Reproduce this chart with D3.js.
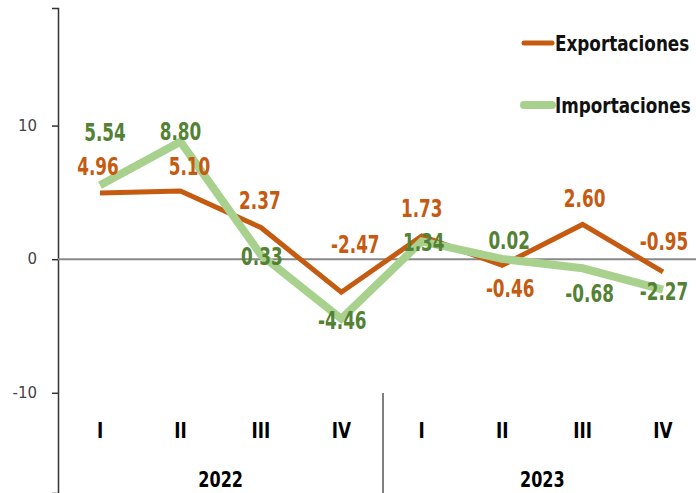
<!DOCTYPE html>
<html lang="es">
<head>
<meta charset="UTF-8">
<title>Exportaciones e Importaciones</title>
<script src="https://d3js.org/d3.v7.min.js"></script>
<style>
  body { margin: 0; background: #fff; }
  svg { display: block; }
</style>
</head>
<body>
<div id="chart"></div>
<script>
// quarters and years
const quarters = ["I", "II", "III", "IV", "I", "II", "III", "IV"];
const years = ["2022", "2023"];
const exportaciones = [4.96, 5.10, 2.37, -2.47, 1.73, -0.46, 2.60, -0.95];
const importaciones = [5.54, 8.80, 0.33, -4.46, 1.34, 0.02, -0.68, -2.27];
const yTicks = [10, 0, -10];

// label offsets from each point (dx, dy)
const expOffsets = [[-2, -18], [9, -16], [-1, -19], [14, -39], [0, -19], [8, 32], [2, -17], [1, -22]];
const impOffsets = [[5, -44], [0, -2], [1, 10], [1, 10], [2, 10], [7, -10], [7, 34], [1, 10]];

const width = 696, height = 493;
const font = "'DejaVu Sans Condensed', 'DejaVu Sans', sans-serif";
const squeeze = 0.78;

const svg = d3.select("#chart").append("svg")
    .attr("width", width)
    .attr("height", height);

const x = d3.scalePoint()
    .domain(d3.range(quarters.length))
    .range([100, 663]);

const y = d3.scaleLinear()
    .domain([-17.5, 18.8])
    .range([493, 8]);

// narrow text: place with a transform and squeeze horizontally
function narrowText(g, px, py, size, sx) {
    return g.append("text")
        .attr("transform", `translate(${px},${py}) scale(${sx},1)`)
        .style("font-family", font)
        .style("font-weight", "bold")
        .style("font-size", size + "px");
}

// y axis
const yAxis = svg.append("g")
    .attr("transform", "translate(58,0)")
    .call(d3.axisLeft(y).tickValues(yTicks).tickSize(6).tickPadding(15).tickFormat(d => String(d)));
yAxis.select(".domain").attr("stroke", "#333").attr("stroke-width", 1.5);
yAxis.selectAll(".tick line").attr("stroke", "#333").attr("stroke-width", 1.5);
yAxis.selectAll(".tick text")
    .attr("fill", "#444")
    .style("font-family", "'DejaVu Sans', sans-serif")
    .style("font-size", "15px");

// zero line
svg.append("line")
    .attr("x1", 58).attr("x2", width)
    .attr("y1", y(0)).attr("y2", y(0))
    .attr("stroke", "#888").attr("stroke-width", 2);

// year separator
svg.append("line")
    .attr("x1", 383).attr("x2", 383)
    .attr("y1", 393).attr("y2", height)
    .attr("stroke", "#555").attr("stroke-width", 1.5);

// quarter labels
quarters.forEach((q, i) => {
    narrowText(svg, x(i), 438, 22, 0.85)
        .attr("text-anchor", "middle")
        .text(q);
});

// year labels
years.forEach((yr, i) => {
    narrowText(svg, (x(i * 4) + x(i * 4 + 3)) / 2, 487, 21, 0.85)
        .attr("text-anchor", "middle")
        .text(yr);
});

const line = d3.line()
    .x((d, i) => x(i))
    .y(d => y(d));

svg.append("path")
    .datum(exportaciones)
    .attr("d", line)
    .attr("fill", "none")
    .attr("stroke", "#c55a11")
    .attr("stroke-width", 5);

svg.append("path")
    .datum(importaciones)
    .attr("d", line)
    .attr("fill", "none")
    .attr("stroke", "#a9d18e")
    .attr("stroke-width", 8);

function addLabels(values, offsets, color) {
    const g = svg.append("g");
    values.forEach((v, i) => {
        narrowText(g, x(i) + offsets[i][0], y(v) + offsets[i][1], 24, squeeze)
            .attr("text-anchor", "middle")
            .attr("fill", color)
            .text(v.toFixed(2));
    });
}
addLabels(exportaciones, expOffsets, "#c55a11");
addLabels(importaciones, impOffsets, "#548235");

// legend
const legend = [
    { name: "Exportaciones", color: "#c55a11", w: 5, y: 43 },
    { name: "Importaciones", color: "#a9d18e", w: 8, y: 105 }
];
legend.forEach(l => {
    svg.append("line")
        .attr("x1", 524).attr("x2", 552)
        .attr("y1", l.y).attr("y2", l.y)
        .attr("stroke", l.color)
        .attr("stroke-width", l.w)
        .attr("stroke-linecap", "round");
    narrowText(svg, 555, l.y + 8, 22, 0.85)
        .attr("fill", "#111")
        .text(l.name);
});
</script>
</body>
</html>
